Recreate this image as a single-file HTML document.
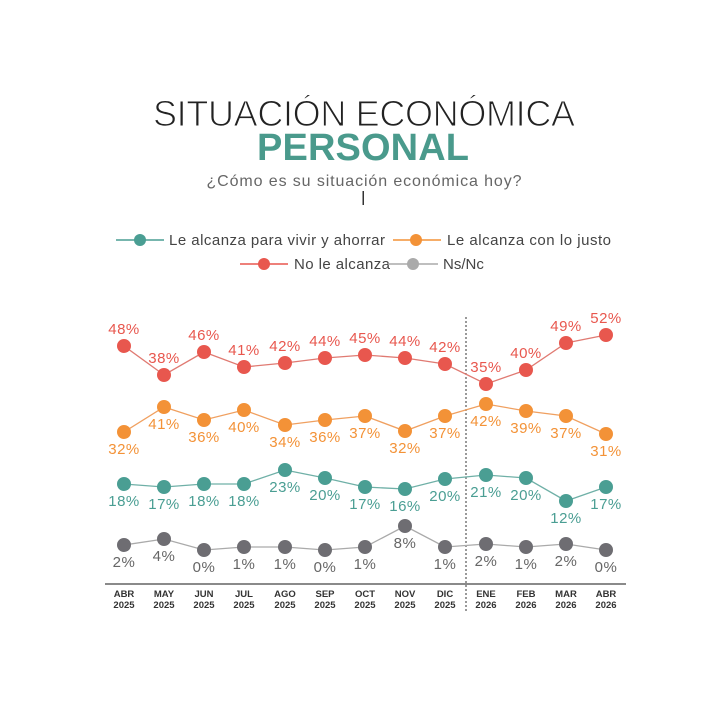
<!DOCTYPE html>
<html><head><meta charset="utf-8"><style>
body{margin:0;background:#fff;}
svg{display:block;font-family:"Liberation Sans",sans-serif;}
</style></head><body>
<svg width="727" height="720" viewBox="0 0 727 720">
<text x="364" y="126" text-anchor="middle" font-size="36" fill="#222" stroke="#fff" stroke-width="1.1" paint-order="normal" textLength="422">SITUACIÓN ECONÓMICA</text>
<text x="363" y="160" text-anchor="middle" font-size="38" font-weight="bold" fill="#4a9a8c" textLength="212">PERSONAL</text>
<text x="364" y="186" text-anchor="middle" font-size="16" fill="#666" textLength="315">¿Cómo es su situación económica hoy?</text>
<rect x="362.5" y="191" width="1.5" height="14" fill="#333"/>
<g font-size="15" fill="#444">
<line x1="116" y1="240" x2="164" y2="240" stroke="#4a9e93" stroke-width="1.5"/><circle cx="140" cy="240" r="6" fill="#4a9e93"/>
<text x="169" y="245" textLength="216">Le alcanza para vivir y ahorrar</text>
<line x1="393" y1="240" x2="441" y2="240" stroke="#f39237" stroke-width="1.5"/><circle cx="416" cy="240" r="6" fill="#f39237"/>
<text x="447" y="245" textLength="164">Le alcanza con lo justo</text>
<line x1="240" y1="264" x2="288" y2="264" stroke="#e8574e" stroke-width="1.5"/><circle cx="264" cy="264" r="6" fill="#e8574e"/>
<text x="294" y="269" textLength="96">No le alcanza</text>
<line x1="388" y1="264" x2="438" y2="264" stroke="#aaa" stroke-width="1.5"/><circle cx="413" cy="264" r="6" fill="#aaa"/>
<text x="443" y="269">Ns/Nc</text>
</g>
<line x1="466" y1="317" x2="466" y2="612" stroke="#333" stroke-width="1" stroke-dasharray="2,2"/>
<line x1="105" y1="584" x2="626" y2="584" stroke="#444" stroke-width="1.2"/>
<g id="chart"></g>
<g font-size="9.5" font-weight="bold" fill="#333" text-anchor="middle" id="xl"></g>
</svg>
<script>
const xs=[124,164,204,244,285,325,365,405,445,486,526,566,606];
const mon=["ABR","MAY","JUN","JUL","AGO","SEP","OCT","NOV","DIC","ENE","FEB","MAR","ABR"];
const yr=["2025","2025","2025","2025","2025","2025","2025","2025","2025","2026","2026","2026","2026"];
const S=[
{c:"#e8574e",l:"#e07a72",y:[346,375,352,367,363,358,355,358,364,384,370,343,335],v:[48,38,46,41,42,44,45,44,42,35,40,49,52],o:-12},
{c:"#f39237",l:"#f0a060",y:[432,407,420,410,425,420,416,431,416,404,411,416,434],v:[32,41,36,40,34,36,37,32,37,42,39,37,31],o:22},
{c:"#4a9e93",l:"#6fb0a7",y:[484,487,484,484,470,478,487,489,479,475,478,501,487],v:[18,17,18,18,23,20,17,16,20,21,20,12,17],o:22},
{c:"#6e6d72",l:"#aaa",y:[545,539,550,547,547,550,547,526,547,544,547,544,550],v:[2,4,0,1,1,0,1,8,1,2,1,2,0],o:22,tc:"#666"}
];
let h="";
S.forEach(s=>{
 h+=`<polyline fill="none" stroke="${s.l}" stroke-width="1.3" points="${xs.map((x,i)=>x+","+s.y[i]).join(" ")}"/>`;
 xs.forEach((x,i)=>{h+=`<circle cx="${x}" cy="${s.y[i]}" r="7" fill="${s.c}"/>`;
 h+=`<text x="${x}" y="${s.y[i]+s.o}" text-anchor="middle" font-size="15" letter-spacing="0.5" fill="${s.tc||s.c}">${s.v[i]}%</text>`;});
});
document.getElementById("chart").innerHTML=h;
let g="";xs.forEach((x,i)=>{g+=`<text x="${x}" y="597">${mon[i]}</text><text x="${x}" y="608">${yr[i]}</text>`;});
document.getElementById("xl").innerHTML=g;
</script>
</body></html>
